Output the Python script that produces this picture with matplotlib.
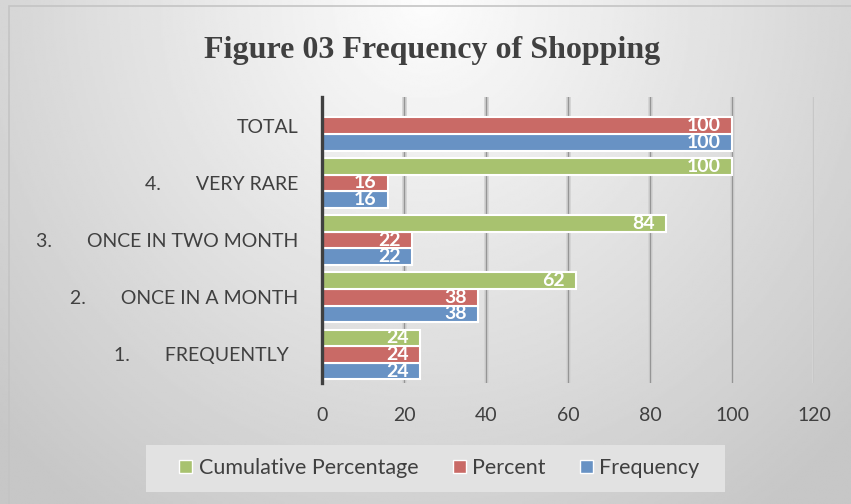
import matplotlib
matplotlib.use("Agg")
import matplotlib.pyplot as plt
import numpy as np
from matplotlib.patches import Patch, Rectangle

# data
categories = ["1.       FREQUENTLY  ", "2.       ONCE IN A MONTH", "3.       ONCE IN TWO MONTH",
              "4.       VERY RARE", "TOTAL"]
frequency = [24, 38, 22, 16, 100]
percent = [24, 38, 22, 16, 100]
cumulative = [24, 62, 84, 100, None]   # no cumulative bar for TOTAL
x_ticks = [0, 20, 40, 60, 80, 100, 120]

c_blue = "#6892c4"
c_red = "#c96a66"
c_green = "#a8c26f"
txt = "#404040"

plt.rcParams["font.family"] = ["Lato", "DejaVu Sans"]

fig = plt.figure(figsize=(8.51, 5.04), dpi=100)

# background gradient over the whole figure
bg = fig.add_axes([0, 0, 1, 1], zorder=-10)
gx, gy = np.meshgrid(np.linspace(-1, 1, 400), np.linspace(0, 1, 300))
r = np.sqrt((gx * 0.9) ** 2 + (gy * 1.0) ** 2)
shade = 0.99 - 0.17 * np.clip(r, 0, 1.25)
bg.imshow(shade, cmap="gray", vmin=0, vmax=1, aspect="auto", extent=[0, 1, 0, 1], origin="upper")
bg.set_xlim(0, 1)
bg.set_ylim(0, 1)
bg.axis("off")
bg.add_patch(Rectangle((0.011, -0.01), 1.0, 0.998, fill=False, edgecolor="#c4c4c4", lw=1.2))
# legend panel
bg.add_patch(Rectangle((146 / 851, 1 - 492 / 504), 579 / 851, 47 / 504,
                       facecolor="#e2e2e2", edgecolor="none"))

ax = fig.add_axes([0.3784, 0.240, 0.5781, 0.5675])
ax.set_facecolor("none")

y = np.arange(len(categories))
h = 0.29

# soft vertical gridlines
for xv in x_ticks[1:]:
    ax.axvline(xv, color="#d4d4d4", lw=3.5, zorder=0)
    ax.axvline(xv, color="#959595", lw=1.0, zorder=0)

bars_b = ax.barh(y - h, frequency, height=h, color=c_blue, edgecolor="white", lw=1.5, zorder=3)
bars_r = ax.barh(y, percent, height=h, color=c_red, edgecolor="white", lw=1.5, zorder=3)
cy = [yy + h for yy, v in zip(y, cumulative) if v is not None]
cv = [v for v in cumulative if v is not None]
bars_g = ax.barh(cy, cv, height=h, color=c_green, edgecolor="white", lw=1.5, zorder=3)

for bars in (bars_b, bars_r, bars_g):
    for b in bars:
        w = b.get_width()
        ax.annotate(f"{w:g}", (w, b.get_y() + b.get_height() / 2), xytext=(-8, 0),
                    textcoords="offset points", ha="right", va="center",
                    color="white", fontsize=14, fontweight="bold", zorder=4)

ax.set_xlim(0, 120)
ax.set_ylim(-0.5, 4.5)
ax.set_xticks(x_ticks)
ax.set_yticks(y)
ax.set_yticklabels(categories)
ax.tick_params(axis="both", length=0, labelsize=14, colors=txt)
ax.tick_params(axis="x", pad=17)
ax.tick_params(axis="y", pad=17)
for s in ["top", "right", "bottom"]:
    ax.spines[s].set_visible(False)
ax.spines["left"].set_color("#404040")
ax.spines["left"].set_linewidth(2.4)
ax.spines["left"].set_zorder(5)

fig.text(0.508, 0.9, "Figure 03 Frequency of Shopping", ha="center", va="center",
         fontsize=23, fontweight="bold", color=txt, family=["Liberation Serif", "DejaVu Serif"])

handles = [Patch(facecolor=c_green, edgecolor="white", label="Cumulative Percentage"),
           Patch(facecolor=c_red, edgecolor="white", label="Percent"),
           Patch(facecolor=c_blue, edgecolor="white", label="Frequency")]
leg = fig.legend(handles=handles, ncol=3, loc="center", bbox_to_anchor=(0.5165, 0.071),
                 frameon=False, fontsize=15.5, handlelength=0.6, handleheight=0.6,
                 handletextpad=0.3, columnspacing=1.6, labelcolor=txt)

fig.savefig("out.png", dpi=100)
